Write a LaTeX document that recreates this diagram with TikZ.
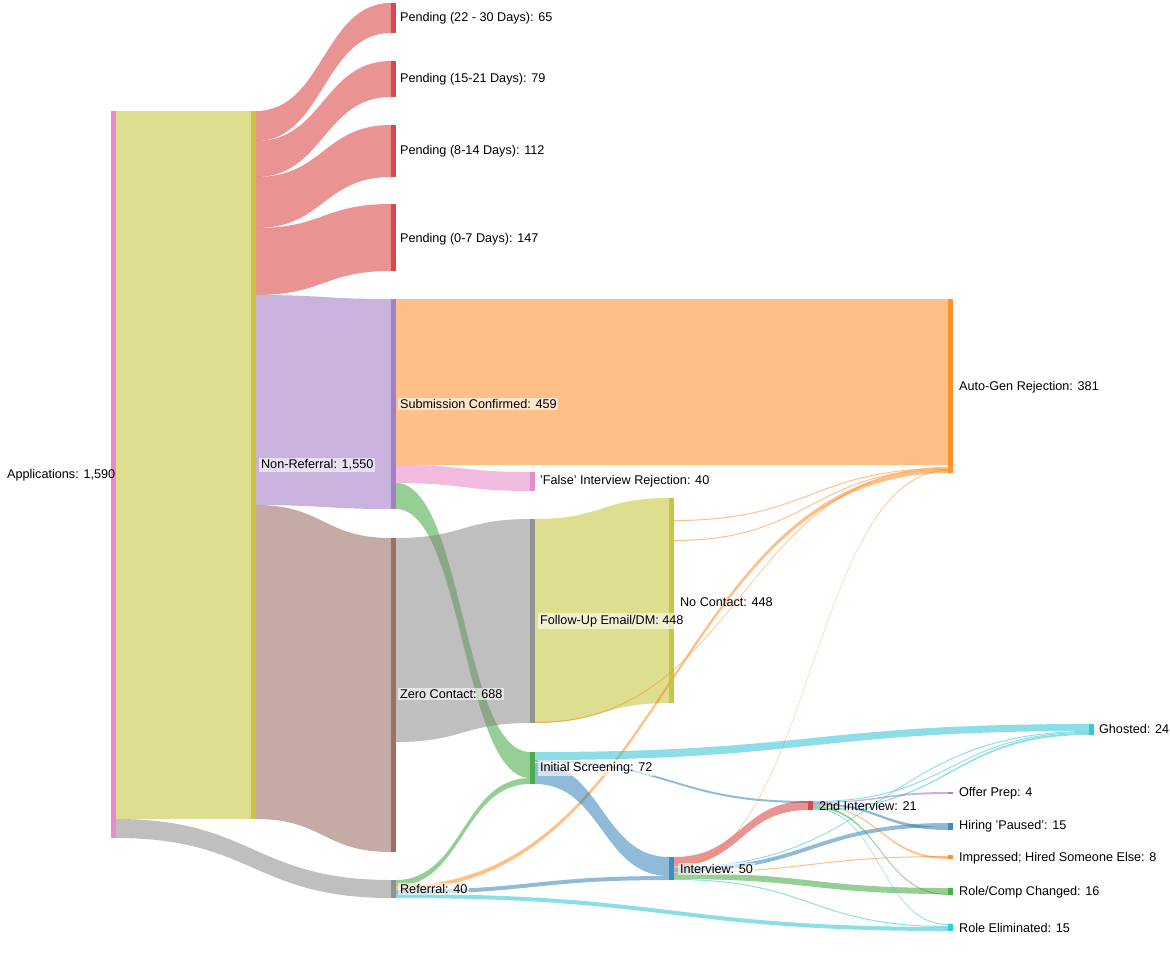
\documentclass[tikz,border=0pt]{standalone}
\usepackage{fontspec}
\setmainfont{Liberation Sans}
\usepackage{tikz}
\usetikzlibrary{positioning}

\definecolor{cOli}{HTML}{BCBD22}
\definecolor{cRed}{HTML}{D62728}
\definecolor{cPur}{HTML}{9467BD}
\definecolor{cBro}{HTML}{8C564B}
\definecolor{cOra}{HTML}{FF7F0E}
\definecolor{cGra}{HTML}{7F7F7F}
\definecolor{cPin}{HTML}{E377C2}
\definecolor{cGre}{HTML}{2CA02C}
\definecolor{cBlu}{HTML}{1F77B4}
\definecolor{cCya}{HTML}{17BECF}

% band between two bars: x0, y0 top, y0 bottom, x1, y1 top, y1 bottom, colour
\newcommand{\flow}[7]{\fill[#7, opacity=.5] (#1,#2) .. controls ({(#1+#4)/2},#2) and ({(#1+#4)/2},#5) .. (#4,#5) -- (#4,#6) .. controls ({(#1+#4)/2},#6) and ({(#1+#4)/2},#3) .. (#1,#3) -- cycle;}
% bar: x, y top, y bottom, colour
\newcommand{\stage}[4]{\fill[#4, opacity=.85] (#1,#2) rectangle ({#1+5},#3);}

\tikzset{
  lbl/.style={anchor=west, inner sep=1pt, font=\fontsize{7.2}{8}\selectfont},
  lblw/.style={lbl, fill=white, fill opacity=.6, text opacity=1}
}

\begin{document}
\begin{tikzpicture}[x=0.02cm, y=-0.02cm]
    \useasboundingbox (0,0) rectangle (1170,971);
    % Flows from Applications
    \flow{116}{111}{819}{251}{111}{819}{cOli}
    \flow{116}{819}{838}{391}{880}{898}{cGra}
    % Flows from Non-Referral
    \flow{256}{111}{141}{391}{3}{33}{cRed}
    \flow{256}{141}{177}{391}{61}{97}{cRed}
    \flow{256}{177}{228}{391}{125}{177}{cRed}
    \flow{256}{228}{295}{391}{204}{271}{cRed}
    \flow{256}{295}{505}{391}{299}{509}{cPur}
    \flow{256}{505}{819}{391}{538}{852}{cBro}
    % Flows from Submission Confirmed
    \flow{396}{299}{465}{948}{299}{465}{cOra}
    \flow{396}{465}{483}{530}{472}{491}{cPin}
    \flow{396}{483}{509}{530}{752}{778}{cGre}
    % Zero Contact and Follow-Up
    \flow{396}{538}{742}{530}{519}{723}{cGra}
    \flow{535}{519}{723}{669}{498}{703}{cOli}
    \flow{535}{722}{723}{948}{467}{468}{cOra}
    \flow{674}{520}{521}{948}{468}{469}{cOra}
    \flow{674}{540}{541}{948}{469}{470}{cOra}
    % Referral
    \flow{396}{880}{886}{530}{778}{784}{cGre}
    \flow{396}{886}{890}{948}{469}{473}{cOra}
    \flow{396}{890}{894}{669}{876}{880}{cBlu}
    \flow{396}{894}{898}{948}{927}{931}{cCya}
    % Initial Screening
    \flow{535}{752}{760}{1089}{724}{731}{cCya}
    \flow{535}{760}{762}{808}{801}{803}{cBlu}
    \flow{535}{763}{784}{669}{857}{876}{cBlu}
    % Interview
    \flow{674}{857}{866}{808}{801}{810}{cRed}
    \flow{674}{866}{867}{948}{470}{471}{cOra}
    \flow{674}{867}{868}{1089}{731}{732}{cCya}
    \flow{674}{868}{872}{948}{823}{827}{cBlu}
    \flow{674}{872}{873}{948}{856}{857}{cOra}
    \flow{674}{873}{879}{948}{888}{894}{cGre}
    \flow{674}{879}{880}{948}{926}{927}{cCya}
    % 2nd Interview
    \flow{813}{801}{802}{1089}{732}{733}{cCya}
    \flow{813}{802}{803}{948}{792}{794}{cPur}
    \flow{813}{803}{805}{948}{827}{830}{cBlu}
    \flow{813}{805}{806}{948}{857}{859}{cOra}
    \flow{813}{806}{808}{948}{894}{895}{cGre}
    \flow{813}{808}{809}{948}{924}{925}{cCya}
    \flow{813}{809}{810}{1089}{733}{735}{cCya}
    % Bars
    \stage{111}{111}{838}{cPin}
    \stage{251}{111}{819}{cOli}
    \stage{391}{3}{33}{cRed}
    \stage{391}{61}{97}{cRed}
    \stage{391}{125}{177}{cRed}
    \stage{391}{204}{271}{cRed}
    \stage{391}{299}{509}{cPur}
    \stage{391}{538}{852}{cBro}
    \stage{391}{880}{898}{cGra}
    \stage{530}{472}{491}{cPin}
    \stage{530}{519}{723}{cGra}
    \stage{530}{752}{784}{cGre}
    \stage{669}{498}{703}{cOli}
    \stage{669}{857}{880}{cBlu}
    \stage{808}{801}{810}{cRed}
    \stage{948}{299}{473}{cOra}
    \stage{1089}{724}{735}{cCya}
    \stage{948}{792}{794}{cPur}
    \stage{948}{823}{830}{cBlu}
    \stage{948}{855}{859}{cOra}
    \stage{948}{888}{895}{cGre}
    \stage{948}{924}{931}{cCya}
    % Labels
    \node[lbl] (apps) at (5,475) {Applications: 1,590};
    \node[lblw] (nonref) at (259,465) {Non-Referral: 1,550};
    \node[lbl] (p22) at (398,18) {Pending (22 - 30 Days): 65};
    \node[lbl] (p15) at (398,79) {Pending (15-21 Days): 79};
    \node[lbl] (p8) at (398,151) {Pending (8-14 Days): 112};
    \node[lbl] (p0) at (398,239) {Pending (0-7 Days): 147};
    \node[lblw] (subm) at (398,404) {Submission Confirmed: 459};
    \node[lblw] (zero) at (398,694) {Zero Contact: 688};
    \node[lblw] (ref) at (398,889) {Referral: 40};
    \node[lbl] (false) at (538,481) {'False' Interview Rejection: 40};
    \node[lblw] (follow) at (538,621) {Follow-Up Email/DM: 448};
    \node[lblw] (screen) at (538,768) {Initial Screening: 72};
    \node[lbl] (nocon) at (678,602) {No Contact: 448};
    \node[lblw] (interv) at (678,869) {Interview: 50};
    \node[lbl] (second) at (817,806) {2nd Interview: 21};
    \node[lbl] (auto) at (957,387) {Auto-Gen Rejection: 381};
    \node[lbl] (ghost) at (1097,729) {Ghosted: 24};
    \node[lbl] (offer) at (957,793) {Offer Prep: 4};
    \node[lbl] (paused) at (957,826) {Hiring 'Paused': 15};
    \node[lbl] (impr) at (957,858) {Impressed; Hired Someone Else: 8};
    \node[lbl] (rolec) at (957,892) {Role/Comp Changed: 16};
    \node[lbl] (rolee) at (957,928) {Role Eliminated: 15};
\end{tikzpicture}
\end{document}
